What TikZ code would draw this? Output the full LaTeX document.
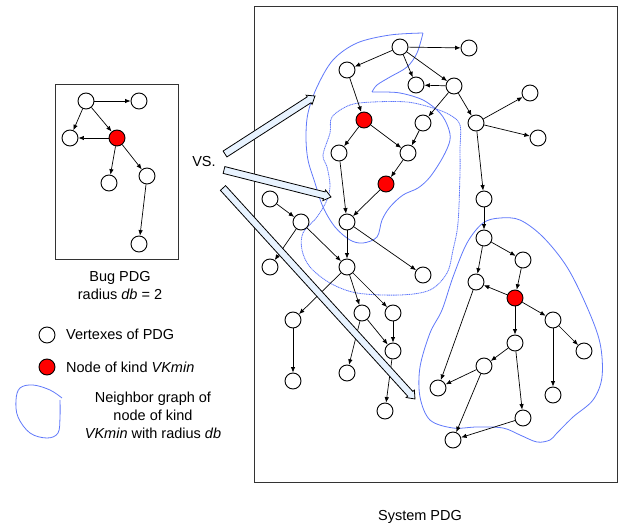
\documentclass[tikz,border=0pt]{standalone}
\usepackage{fontspec}
\setmainfont{Liberation Sans}
\usetikzlibrary{arrows.meta,calc}
\definecolor{contour}{RGB}{95,120,250}
\definecolor{vkred}{RGB}{255,0,0}
\definecolor{arrowfill}{RGB}{232,243,255}
\newcommand{\hollowarrow}[3]{%
  \coordinate (#3h) at ($(#2)!7pt!(#1)$);
  \draw[bigarrow] ($(#1)!3.5pt!90:(#2)$) -- ($(#3h)!3.5pt!-90:(#1)$) -- ($(#3h)!5.5pt!-90:(#1)$)
    -- (#2) -- ($(#3h)!5.5pt!90:(#1)$) -- ($(#3h)!3.5pt!90:(#1)$) -- ($(#1)!3.5pt!-90:(#2)$) -- cycle;}
\begin{document}
\begin{tikzpicture}[x=1pt,y=-1pt,
  vtx/.style={circle,draw,fill=white,minimum size=16pt,inner sep=0pt,line width=0.9pt},
  vkmin/.style={vtx,fill=vkred},
  link/.style={draw,line width=0.7pt,-{Latex[length=5.5pt,width=4.5pt]}},
  boxline/.style={draw=black!80,line width=1pt},
  hood/.style={draw=contour,line width=0.8pt},
  hooddot/.style={draw=contour,line width=0.8pt,dash pattern=on 1.2pt off 0.6pt},
  bigarrow/.style={draw,fill=arrowfill,line width=0.8pt,line join=miter},
  lbl/.style={font=\fontsize{14.5}{18}\selectfont,inner sep=0pt}]
\useasboundingbox (0,0) rectangle (621,527);

% frames
\draw[boxline] (55,84) rectangle (178,259);
\draw[boxline] (254,7) rectangle (617,482);

% contours
\draw[hood] plot[smooth,tension=0.55] coordinates {(423,33) (390,35) (357,43) (333,60) (317,87) (308,113) (306,137) (308,160) (315,183) (323,207) (335,227) (350,240) (363,243) (377,237) (382,220) (390,207) (403,195) (418,188) (430,177) (443,157) (450,140) (448,127) (440,113) (423,100) (400,93) (380,92) (372,92)}
  plot[smooth,tension=0.55] coordinates {(372,92) (377,85) (390,77) (407,67) (417,53) (423,33)};
\draw[hooddot] plot[smooth cycle,tension=0.55] coordinates {(332,117) (350,105) (373,102) (407,102) (433,108) (450,115) (460,125) (460,150) (460,173) (458,223) (453,250) (447,273) (430,290) (400,295) (357,293) (330,283) (310,267) (302,250) (303,233) (317,217) (327,200) (330,185) (327,167) (323,155) (330,133)};
\draw[hood] plot[smooth cycle,tension=0.55] coordinates {(483,223) (500,218) (520,220) (543,237) (567,267) (587,307) (600,343) (602,377) (593,400) (573,417) (557,433) (550,440) (537,442) (520,435) (503,428) (477,427) (453,428) (430,420) (420,397) (420,367) (430,333) (442,310) (453,277) (467,243)};
\draw[hood] plot[smooth,tension=0.6] coordinates {(62,398) (50,390) (33,385) (20,388) (16,400) (18,417) (30,433) (47,438) (58,433) (60,417) (60,400)};

% bug PDG
\node[vtx] (b1) at (86,101) {};
\node[vtx] (b2) at (139,101) {};
\node[vtx] (b3) at (70,138) {};
\node[vkmin] (b4) at (117,138) {};
\node[vtx] (b5) at (109,183) {};
\node[vtx] (b6) at (147,176) {};
\node[vtx] (b7) at (139,244) {};
\foreach \a/\b in {b1/b2,b1/b3,b1/b4,b4/b3,b4/b5,b4/b6,b6/b7}
  \draw[link] (\a) -- (\b);

% system PDG
\node[vtx] (s1) at (400,47) {};
\node[vtx] (s2) at (347,70) {};
\node[vtx] (s3) at (416,85) {};
\node[vtx] (s4) at (454,86) {};
\node[vtx] (s10) at (469,48) {};
\node[vtx] (s11) at (530,93) {};
\node[vtx] (s12) at (476,123) {};
\node[vtx] (s13) at (538,138) {};
\node[vkmin] (s5) at (364,120) {};
\node[vtx] (s6) at (423,123) {};
\node[vtx] (s7) at (339,153) {};
\node[vtx] (s8) at (408,153) {};
\node[vkmin] (s9) at (386,184) {};
\node[vtx] (s14) at (347,222) {};
\node[vtx] (s15) at (270,199) {};
\node[vtx] (s16) at (301,222) {};
\node[vtx] (s17) at (270,267) {};
\node[vtx] (s18) at (347,267) {};
\node[vtx] (s19) at (423,275) {};
\node[vtx] (s20) at (362,313) {};
\node[vtx] (s21) at (393,313) {};
\node[vtx] (s22) at (293,320) {};
\node[vtx] (s23) at (393,351) {};
\node[vtx] (s24) at (293,381) {};
\node[vtx] (s25) at (347,373) {};
\node[vtx] (s26) at (385,411) {};
\node[vtx] (s27) at (438,388) {};
\node[vtx] (s28) at (484,199) {};
\node[vtx] (s29) at (484,238) {};
\node[vtx] (s30) at (523,260) {};
\node[vtx] (s31) at (476,282) {};
\node[vkmin] (s32) at (515,298) {};
\node[vtx] (s33) at (553,320) {};
\node[vtx] (s34) at (515,343) {};
\node[vtx] (s35) at (584,351) {};
\node[vtx] (s36) at (484,366) {};
\node[vtx] (s37) at (553,395) {};
\node[vtx] (s38) at (523,418) {};
\node[vtx] (s39) at (453,440) {};
\foreach \a/\b in {s1/s10,s1/s2,s1/s3,s1/s4,s4/s3,s4/s6,s4/s12,s2/s5,s5/s7,s5/s8,s6/s8,s8/s9,
  s12/s11,s12/s13,s12/s28,s7/s14,s9/s14,s15/s16,s16/s17,s16/s18,s14/s18,s14/s19,s18/s22,s18/s20,
  s18/s21,s20/s23,s21/s23,s22/s24,s20/s25,s23/s26,s28/s29,s29/s30,s29/s31,s30/s32,s32/s31,s32/s33,
  s32/s34,s33/s35,s31/s27,s34/s36,s36/s27,s36/s39,s34/s38,s38/s39,s33/s37}
  \draw[link] (\a) -- (\b);

% big hollow arrows
\coordinate (t1) at (225,154); \coordinate (p1) at (315,96);
\coordinate (t2) at (224,170); \coordinate (p2) at (331,197);
\coordinate (t3) at (223,188); \coordinate (p3) at (415,399);
\hollowarrow{t1}{p1}{a}
\hollowarrow{t2}{p2}{b}
\hollowarrow{t3}{p3}{c}

% texts
\node[lbl] (vs) at (204,162) {VS.};
\node[lbl,align=center] (buglabel) at (120,286) {Bug PDG\\radius \textit{db} = 2};
\node[vtx] (lv) at (47,335) {};
\node[vkmin] (lr) at (47,367) {};
\node[lbl,anchor=west] (lvt) at (66,334) {Vertexes of PDG};
\node[lbl,anchor=west] (lrt) at (66,367) {Node of kind \textit{VKmin}};
\node[lbl,align=center] (lnt) at (153,415) {Neighbor graph of\\node of kind\\\textit{VKmin} with radius \textit{db}};
\node[lbl] (syslabel) at (420,517) {System PDG};
\end{tikzpicture}
\end{document}
